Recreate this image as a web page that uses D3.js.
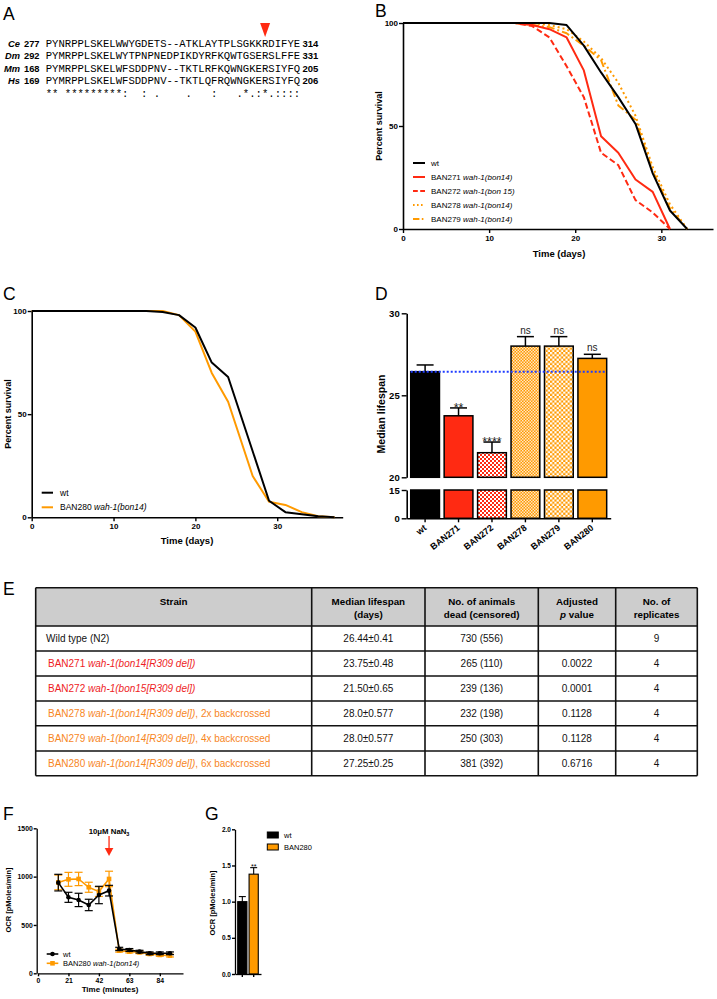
<!DOCTYPE html>
<html><head><meta charset="utf-8">
<script src="https://cdn.jsdelivr.net/npm/d3@7"></script>
<style>
body{margin:0;background:#fff;}
svg{display:block;font-family:"Liberation Sans",Arial,sans-serif;}
text{white-space:pre;}
</style></head><body>
<svg id="fig" width="717" height="999"></svg>
<script>
// ---------------- DATA ----------------
// Panel A: alignment
const alnSpecies = ["Ce","Dm","Mm","Hs"];
const alnStart = [277,292,168,169];
const alnEnd = [314,331,205,206];
const alnSeqs = [
  "PYNRPPLSKELWWYGDETS--ATKLAYTPLSGKKRDIFYE",
  "PYMRPPLSKELWYTPNPNEDPIKDYRFKQWTGSERSLFFE",
  "PYMRPPLSKELWFSDDPNV--TKTLRFKQWNGKERSIYFQ",
  "PYMRPPLSKELWFSDDPNV--TKTLQFRQWNGKERSIYFQ"
];
const alnConservation = "** *********:  : .    .   :   .*.:*.::::";
const alnArrowIndex = 34;

// Panel B: survival curves
const bDays = [0,13,15,17,19,21,23,25,27,29,31,33];
const bWt     = [100,100,100,100,99,89,76,64,51,27,9,0];
const bBan271 = [100,100,99,97,93,77,45,37,24,18,0,null];
const bBan272 = [100,100,98.5,93,79,64,37,31,14,8,0,null];
const bBan278 = [100,100,100,99,97,91,83,71,55,30,12,0];
const bBan279 = [100,100,99,98,95,89,82,60,53,28,10,0];
const bNames = ["wt","BAN271","BAN272","BAN278","BAN279"];
const bAlleles = ["","wah-1(bon14)","wah-1(bon 15)","wah-1(bon14)","wah-1(bon14)"];
const bTicksX = [0,10,20,30];
const bTicksY = [0,50,100];

// Panel C
const cDays = [0,14,16,18,20,22,24,27,29,31,33,35,37];
const cWt     = [100,100,99.5,98,92,75,68,32,8,2.5,1.5,0.5,0];
const cBan280 = [100,100,100,98,90,70,56,20,7.5,6,2.5,0.5,0];
const cNames = ["wt","BAN280"];
const cAlleles = ["","wah-1(bon14)"];

// Panel D
const dStrains = ["wt","BAN271","BAN272","BAN278","BAN279","BAN280"];
const dMedian = [26.44,23.75,21.5,28.0,28.0,27.25];
const dSem = [0.41,0.48,0.65,0.577,0.577,0.25];
const dSig = ["","**","****","ns","ns","ns"];
const dTicksUpper = [20,25,30];
const dTicksLower = [0,15];

// Panel E: table
const tHeaders = [["Strain"],["Median lifespan","(days)"],["No. of animals","dead (censored)"],["Adjusted","p value"],["No. of","replicates"]];
const tStrain = ["Wild type (N2)","BAN271","BAN272","BAN278","BAN279","BAN280"];
const tAllele = ["","wah-1(bon14[R309 del])","wah-1(bon15[R309 del])","wah-1(bon14[R309 del])","wah-1(bon14[R309 del])","wah-1(bon14[R309 del])"];
const tNote = ["","","",", 2x backcrossed",", 4x backcrossed",", 6x backcrossed"];
const tMedian = ["26.44±0.41","23.75±0.48","21.50±0.65","28.0±0.577","28.0±0.577","27.25±0.25"];
const tDead = ["730 (556)","265 (110)","239 (136)","232 (198)","250 (303)","381 (392)"];
const tPval = ["","0.0022","0.0001","0.1128","0.1128","0.6716"];
const tReps = ["9","4","4","4","4","4"];

// Panel F
const fTime = [14,21,28,35,42,49,56,63,70,77,84,91];
const fWt     = [938,786,759,707,810,855,252,241,224,207,207,207];
const fWtErr  = [86,52,69,59,90,55,17,15,14,14,14,14];
const fBan    = [940,972,976,890,845,976,234,224,217,200,190,183];
const fBanErr = [76,72,69,52,50,80,15,14,14,14,14,14];
const fTicksX = [0,21,42,63,84];
const fTicksY = [0,500,1000,1500];

// Panel G
const gGroups = ["wt","BAN280"];
const gValues = [1.0,1.38];
const gErr = [0.07,0.09];
const gSig = ["","**"];
const gTicksY = [0,0.5,1.0,1.5,2.0];

// ---------------- STYLE ----------------
const RED = "#ff2a12", ORANGE = "#ff9a00", BLUE = "#1f3cff";
const TRED = "#ee1c24", TORANGE = "#f7861e";
const FONT = '"Liberation Sans", Arial, sans-serif';
const svg = d3.select("#fig");

function styleAxis(g, size){
  g.selectAll("path.domain").attr("stroke","#000").attr("stroke-width",1.6);
  g.selectAll(".tick line").attr("stroke","#000").attr("stroke-width",1.4);
  g.selectAll(".tick text").attr("font-size",size).attr("font-weight","bold").attr("fill","#000").attr("font-family",FONT);
  return g;
}
function panelLabel(t,x,y){
  svg.append("text").attr("x",x).attr("y",y).attr("font-size",17.5).text(t);
}
panelLabel("A",3,19.5); panelLabel("B",375,16.7); panelLabel("C",3,300);
panelLabel("D",375,300); panelLabel("E",3,595); panelLabel("F",3,820); panelLabel("G",205,820);

// ---------------- PANEL A ----------------
(function(){
  const g = svg.append("g");
  const charW = 6.36, seqX = 45.7;
  const rowY = [46.5,59,71.5,84];
  alnSeqs.forEach((s,i)=>{
    g.append("text").attr("x",20).attr("y",rowY[i]).attr("text-anchor","end")
      .attr("font-weight","bold").attr("font-style","italic").attr("font-size",9.3).text(alnSpecies[i]);
    g.append("text").attr("x",24).attr("y",rowY[i]).attr("font-weight","bold").attr("font-size",9.3).text(alnStart[i]);
    g.append("text").attr("x",seqX).attr("y",rowY[i]).attr("font-family",'"Liberation Mono","Courier New",monospace')
      .attr("font-size",10.6).attr("textLength",s.length*charW).attr("lengthAdjust","spacing").text(s);
    g.append("text").attr("x",302.5).attr("y",rowY[i]).attr("font-weight","bold").attr("font-size",9.5).text(alnEnd[i]);
  });
  alnConservation.split("").forEach((c,j)=>{
    if(c===" ") return;
    g.append("text").attr("x",seqX+charW*(j+0.5)).attr("y",96.5).attr("text-anchor","middle")
      .attr("font-family",'"Liberation Mono","Courier New",monospace').attr("font-size",10.6).text(c);
  });
  const ax = seqX + charW*(alnArrowIndex+0.5);
  g.append("path").attr("d",`M${ax-5},23 L${ax+5},23 L${ax},37 Z`).attr("fill",RED);
})();

// ---------------- PANEL B ----------------
(function(){
  const g = svg.append("g");
  const x = d3.scaleLinear().domain([0,36]).range([403,713]);
  const y = d3.scaleLinear().domain([0,100]).range([229,23]);
  styleAxis(g.append("g").attr("transform","translate(0,229)")
    .call(d3.axisBottom(x).tickValues(bTicksX).tickSize(4).tickSizeOuter(0).tickPadding(2)),8);
  styleAxis(g.append("g").attr("transform","translate(403,0)")
    .call(d3.axisLeft(y).tickValues(bTicksY).tickSize(4).tickSizeOuter(0).tickPadding(1)),8);
  g.append("text").attr("x",559).attr("y",257).attr("text-anchor","middle").attr("font-weight","bold").attr("font-size",9.5).text("Time (days)");
  g.append("text").attr("transform","translate(381.5,126) rotate(-90)").attr("text-anchor","middle").attr("font-weight","bold").attr("font-size",9).text("Percent survival");
  const series = [bWt,bBan271,bBan272,bBan278,bBan279];
  const colors = ["#000",RED,RED,ORANGE,ORANGE];
  const dashes = [null,null,"6,3","2,3","8,3,2,3"];
  const line = d3.line().defined(d=>d[1]!=null).x(d=>x(d[0])).y(d=>y(d[1]));
  const order = [4,3,2,1,0];
  order.forEach(i=>{
    g.append("path").datum(bDays.map((d,k)=>[d,series[i][k]]))
      .attr("d",line).attr("fill","none").attr("stroke",colors[i]).attr("stroke-width",2)
      .attr("stroke-dasharray",dashes[i]).attr("stroke-linejoin","round");
  });
  bNames.forEach((n,i)=>{
    const yy = 163 + i*14;
    g.append("line").attr("x1",413).attr("x2",425).attr("y1",yy).attr("y2",yy)
      .attr("stroke",colors[i]).attr("stroke-width",2).attr("stroke-dasharray",dashes[i]?dashes[i].split(",").map(v=>+v*0.8).join(","):null);
    const t = g.append("text").attr("x",431).attr("y",yy+3).attr("font-size",8);
    t.append("tspan").text(n + (bAlleles[i]?" ":""));
    if(bAlleles[i]) t.append("tspan").attr("font-style","italic").text(bAlleles[i]);
  });
})();

// ---------------- PANEL C ----------------
(function(){
  const g = svg.append("g");
  const x = d3.scaleLinear().domain([0,38]).range([31.7,342.7]);
  const y = d3.scaleLinear().domain([0,100]).range([517.3,311]);
  styleAxis(g.append("g").attr("transform","translate(0,517.3)")
    .call(d3.axisBottom(x).tickValues(bTicksX).tickSize(4).tickSizeOuter(0).tickPadding(2)),8);
  styleAxis(g.append("g").attr("transform","translate(31.7,0)")
    .call(d3.axisLeft(y).tickValues(bTicksY).tickSize(4).tickSizeOuter(0).tickPadding(1)),8);
  g.append("text").attr("x",187).attr("y",543.5).attr("text-anchor","middle").attr("font-weight","bold").attr("font-size",9.5).text("Time (days)");
  g.append("text").attr("transform","translate(10.5,414) rotate(-90)").attr("text-anchor","middle").attr("font-weight","bold").attr("font-size",9).text("Percent survival");
  const line = d3.line().x(d=>x(d[0])).y(d=>y(d[1]));
  const series = [cBan280,cWt], colors=[ORANGE,"#000"];
  series.forEach((s,i)=>{
    g.append("path").datum(cDays.map((d,k)=>[d,s[k]])).attr("d",line).attr("fill","none")
      .attr("stroke",colors[i]).attr("stroke-width",2).attr("stroke-linejoin","round");
  });
  const lc = ["#000",ORANGE];
  cNames.forEach((n,i)=>{
    const yy = 492.7 + i*14.6;
    g.append("line").attr("x1",41.7).attr("x2",53).attr("y1",yy).attr("y2",yy).attr("stroke",lc[i]).attr("stroke-width",2);
    const t = g.append("text").attr("x",60).attr("y",yy+3).attr("font-size",8.5);
    t.append("tspan").text(n+(cAlleles[i]?" ":""));
    if(cAlleles[i]) t.append("tspan").attr("font-style","italic").text(cAlleles[i]);
  });
})();

// ---------------- PANEL D ----------------
(function(){
  const g = svg.append("g");
  const defs = svg.append("defs");
  function checker(id, size, c1, c2){
    const p = defs.append("pattern").attr("id",id).attr("patternUnits","userSpaceOnUse").attr("width",size*2).attr("height",size*2);
    p.append("rect").attr("width",size*2).attr("height",size*2).attr("fill",c1);
    p.append("rect").attr("width",size).attr("height",size).attr("fill",c2);
    p.append("rect").attr("x",size).attr("y",size).attr("width",size).attr("height",size).attr("fill",c2);
  }
  checker("p272",2,RED,"#fff");
  checker("p278",1.5,ORANGE,"#ffe6c4");
  checker("p279",2.2,ORANGE,"#fff");
  const fills = ["#000",RED,"url(#p272)","url(#p278)","url(#p279)",ORANGE];
  const x = d3.scaleBand().domain(dStrains).range([406.7,610.7]).paddingInner(0.14).paddingOuter(0.12);
  const yU = d3.scaleLinear().domain([20,30]).range([477.3,313.3]);
  const yL = d3.scaleLinear().domain([0,15]).range([518.3,490]);
  dStrains.forEach((s,i)=>{
    const bx = x(s), bw = x.bandwidth();
    g.append("rect").attr("x",bx).attr("width",bw).attr("y",yL(15)).attr("height",yL(0)-yL(15))
      .attr("fill",fills[i]).attr("stroke","#000").attr("stroke-width",1.5);
    g.append("rect").attr("x",bx).attr("width",bw).attr("y",yU(dMedian[i])).attr("height",yU(20)-yU(dMedian[i]))
      .attr("fill",fills[i]).attr("stroke","#000").attr("stroke-width",1.5);
    const cx = bx+bw/2, top = yU(dMedian[i]+dSem[i]);
    g.append("line").attr("x1",cx).attr("x2",cx).attr("y1",yU(dMedian[i])).attr("y2",top).attr("stroke","#000").attr("stroke-width",1.5);
    g.append("line").attr("x1",cx-8.5).attr("x2",cx+8.5).attr("y1",top).attr("y2",top).attr("stroke","#000").attr("stroke-width",1.5);
    if(dSig[i]){
      const isStar = dSig[i].startsWith("*");
      g.append("text").attr("x",cx).attr("y",isStar?top+4:top-3).attr("text-anchor","middle")
        .attr("font-size",isStar?12.5:10).attr("fill","#222").text(dSig[i]);
    }
  });
  // reference line at wt median
  g.append("line").attr("x1",x(dStrains[0])).attr("x2",x(dStrains[5])+x.bandwidth())
    .attr("y1",yU(dMedian[0])).attr("y2",yU(dMedian[0])).attr("stroke",BLUE).attr("stroke-width",2).attr("stroke-dasharray","2,2");
  styleAxis(g.append("g").attr("transform","translate(406.7,0)")
    .call(d3.axisLeft(yU).tickValues(dTicksUpper).tickSize(5).tickSizeOuter(0).tickPadding(2)),9.5);
  styleAxis(g.append("g").attr("transform","translate(406.7,0)")
    .call(d3.axisLeft(yL).tickValues(dTicksLower).tickSize(5).tickSizeOuter(0).tickPadding(2)),9.5);
  const xa = g.append("g").attr("transform","translate(0,518.3)")
    .call(d3.axisBottom(x).tickSize(4).tickSizeOuter(0).tickFormat(""));
  styleAxis(xa,9);
  dStrains.forEach(s=>{
    const cx = x(s)+x.bandwidth()/2;
    g.append("text").attr("transform",`translate(${cx+2},${529}) rotate(-38)`).attr("text-anchor","end")
      .attr("font-weight","bold").attr("font-size",9).text(s);
  });
  g.append("text").attr("transform","translate(385,414) rotate(-90)").attr("text-anchor","middle").attr("font-weight","bold").attr("font-size",10.5).text("Median lifespan");
})();

// ---------------- PANEL E ----------------
(function(){
  const g = svg.append("g");
  const colX = [35.7,311.7,425,538.3,615.7,697.3];
  const rowY = [587.7,626,651,676,701,725.7,751,775.7];
  g.append("rect").attr("x",colX[0]).attr("y",rowY[0]).attr("width",colX[5]-colX[0]).attr("height",rowY[1]-rowY[0]).attr("fill","#cdcdcd");
  rowY.forEach(yy=>g.append("line").attr("x1",colX[0]).attr("x2",colX[5]).attr("y1",yy).attr("y2",yy).attr("stroke","#111").attr("stroke-width",1.6));
  colX.forEach(xx=>g.append("line").attr("x1",xx).attr("x2",xx).attr("y1",rowY[0]).attr("y2",rowY[7]).attr("stroke","#111").attr("stroke-width",1.6));
  tHeaders.forEach((h,c)=>{
    const cx = (colX[c]+colX[c+1])/2;
    h.forEach((ln,k)=>{
      const t = g.append("text").attr("x",cx).attr("y",604.5+k*13.3).attr("text-anchor","middle").attr("font-weight","bold").attr("font-size",9.8);
      if(ln==="p value"){ t.append("tspan").attr("font-style","italic").text("p"); t.append("tspan").text(" value"); }
      else t.text(ln);
    });
  });
  const colors = ["#111",TRED,TRED,TORANGE,TORANGE,TORANGE];
  tStrain.forEach((s,r)=>{
    const by = (rowY[r+1]+rowY[r+2])/2 + 3.6;
    const t = g.append("text").attr("x",r===0?46:48).attr("y",by).attr("font-size",10).attr("fill",colors[r]);
    t.append("tspan").text(s+(tAllele[r]?" ":""));
    if(tAllele[r]) t.append("tspan").attr("font-style","italic").text(tAllele[r]);
    if(tNote[r]) t.append("tspan").text(tNote[r]);
    [tMedian[r],tDead[r],tPval[r],tReps[r]].forEach((v,c)=>{
      g.append("text").attr("x",(colX[c+1]+colX[c+2])/2).attr("y",by).attr("text-anchor","middle").attr("font-size",10).attr("fill","#111").text(v);
    });
  });
})();

// ---------------- PANEL F ----------------
(function(){
  const g = svg.append("g");
  const x = d3.scaleLinear().domain([0,100]).range([38,183]);
  const y = d3.scaleLinear().domain([0,1500]).range([973.3,828.3]);
  styleAxis(g.append("g").attr("transform","translate(0,973.3)")
    .call(d3.axisBottom(x).tickValues(fTicksX).tickFormat(d3.format("d")).tickSize(3).tickSizeOuter(0).tickPadding(2)),6.8);
  styleAxis(g.append("g").attr("transform","translate(36.7,0)")
    .call(d3.axisLeft(y).tickValues(fTicksY).tickFormat(d3.format("d")).tickSize(3).tickSizeOuter(0).tickPadding(1)),6.8);
  g.selectAll("path.domain").attr("stroke-width",1.3);
  g.append("text").attr("x",110).attr("y",992).attr("text-anchor","middle").attr("font-weight","bold").attr("font-size",8).text("Time (minutes)");
  g.append("text").attr("transform","translate(11,900) rotate(-90)").attr("text-anchor","middle").attr("font-weight","bold").attr("font-size",7.5).text("OCR [pMoles/min]");
  const line = d3.line().x(d=>x(d[0])).y(d=>y(d[1]));
  function drawSeries(vals, errs, color, marker){
    const pts = fTime.map((t,k)=>[t,vals[k],errs[k]]);
    pts.forEach(p=>{
      const cx = x(p[0]);
      g.append("line").attr("x1",cx).attr("x2",cx).attr("y1",y(p[1]-p[2])).attr("y2",y(p[1]+p[2])).attr("stroke",color).attr("stroke-width",1.2);
      [p[1]-p[2],p[1]+p[2]].forEach(v=>g.append("line").attr("x1",cx-4).attr("x2",cx+4).attr("y1",y(v)).attr("y2",y(v)).attr("stroke",color).attr("stroke-width",1.2));
    });
    g.append("path").datum(pts).attr("d",line).attr("fill","none").attr("stroke",color).attr("stroke-width",1.6);
    pts.forEach(p=>{
      if(marker==="circle") g.append("circle").attr("cx",x(p[0])).attr("cy",y(p[1])).attr("r",2.3).attr("fill",color);
      else g.append("rect").attr("x",x(p[0])-2.3).attr("y",y(p[1])-2.3).attr("width",4.6).attr("height",4.6).attr("fill",color);
    });
  }
  drawSeries(fBan,fBanErr,ORANGE,"square");
  drawSeries(fWt,fWtErr,"#000","circle");
  // NaN3 arrow
  const ax = x(49);
  g.append("line").attr("x1",ax).attr("x2",ax).attr("y1",836).attr("y2",849).attr("stroke",RED).attr("stroke-width",1.3);
  g.append("path").attr("d",`M${ax-4.3},848 L${ax+4.3},848 L${ax},856 Z`).attr("fill",RED);
  const tt = g.append("text").attr("x",ax).attr("y",834).attr("text-anchor","middle").attr("font-weight","bold").attr("font-size",7.8);
  tt.append("tspan").text("10μM NaN");
  tt.append("tspan").attr("font-size",5.5).attr("dy",2).text("3");
  // legend
  const lg = [["wt","", "#000","circle"],["BAN280","wah-1(bon14)",ORANGE,"square"]];
  lg.forEach((l,i)=>{
    const yy = 954 + i*9.3;
    g.append("line").attr("x1",46.7).attr("x2",58.3).attr("y1",yy).attr("y2",yy).attr("stroke",l[2]).attr("stroke-width",1.6);
    if(l[3]==="circle") g.append("circle").attr("cx",52.5).attr("cy",yy).attr("r",2.3).attr("fill",l[2]);
    else g.append("rect").attr("x",50.2).attr("y",yy-2.3).attr("width",4.6).attr("height",4.6).attr("fill",l[2]);
    const t = g.append("text").attr("x",63).attr("y",yy+2.7).attr("font-size",7.5);
    t.append("tspan").text(l[0]+(l[1]?" ":""));
    if(l[1]) t.append("tspan").attr("font-style","italic").text(l[1]);
  });
})();

// ---------------- PANEL G ----------------
(function(){
  const g = svg.append("g");
  const x = d3.scaleBand().domain(gGroups).range([235,261]).paddingInner(0.19).paddingOuter(0.24);
  const y = d3.scaleLinear().domain([0,2]).range([974,829.3]);
  const colors = ["#000",ORANGE];
  gGroups.forEach((gr,i)=>{
    const bx = x(gr), bw = x.bandwidth(), cx = bx+bw/2, top = y(gValues[i]+gErr[i]);
    g.append("line").attr("x1",cx).attr("x2",cx).attr("y1",y(gValues[i])).attr("y2",top).attr("stroke","#000").attr("stroke-width",1.1);
    g.append("line").attr("x1",cx-3.5).attr("x2",cx+3.5).attr("y1",top).attr("y2",top).attr("stroke","#000").attr("stroke-width",1.1);
    g.append("rect").attr("x",bx).attr("width",bw).attr("y",y(gValues[i])).attr("height",y(0)-y(gValues[i]))
      .attr("fill",colors[i]).attr("stroke","#000").attr("stroke-width",1.1);
    if(gSig[i]) g.append("text").attr("x",cx).attr("y",top+1.5).attr("text-anchor","middle").attr("font-size",7).text(gSig[i]);
  });
  styleAxis(g.append("g").attr("transform","translate(235,0)")
    .call(d3.axisLeft(y).tickValues(gTicksY).tickFormat(d3.format(".1f")).tickSize(3).tickSizeOuter(0).tickPadding(1)),6.5);
  styleAxis(g.append("g").attr("transform","translate(0,974)")
    .call(d3.axisBottom(x).tickSize(3).tickSizeOuter(0).tickFormat("")),6.5);
  g.selectAll("path.domain").attr("stroke-width",1.3);
  g.append("text").attr("transform","translate(215,903) rotate(-90)").attr("text-anchor","middle").attr("font-weight","bold").attr("font-size",7.5).text("OCR [pMoles/min]");
  gGroups.forEach((gr,i)=>{
    const yy = 832 + i*12;
    g.append("rect").attr("x",267.3).attr("y",yy).attr("width",11).attr("height",6).attr("fill",colors[i]).attr("stroke","#000").attr("stroke-width",1);
    g.append("text").attr("x",284).attr("y",yy+5.5).attr("font-size",7.5).text(gr);
  });
})();
</script>
</body></html>
